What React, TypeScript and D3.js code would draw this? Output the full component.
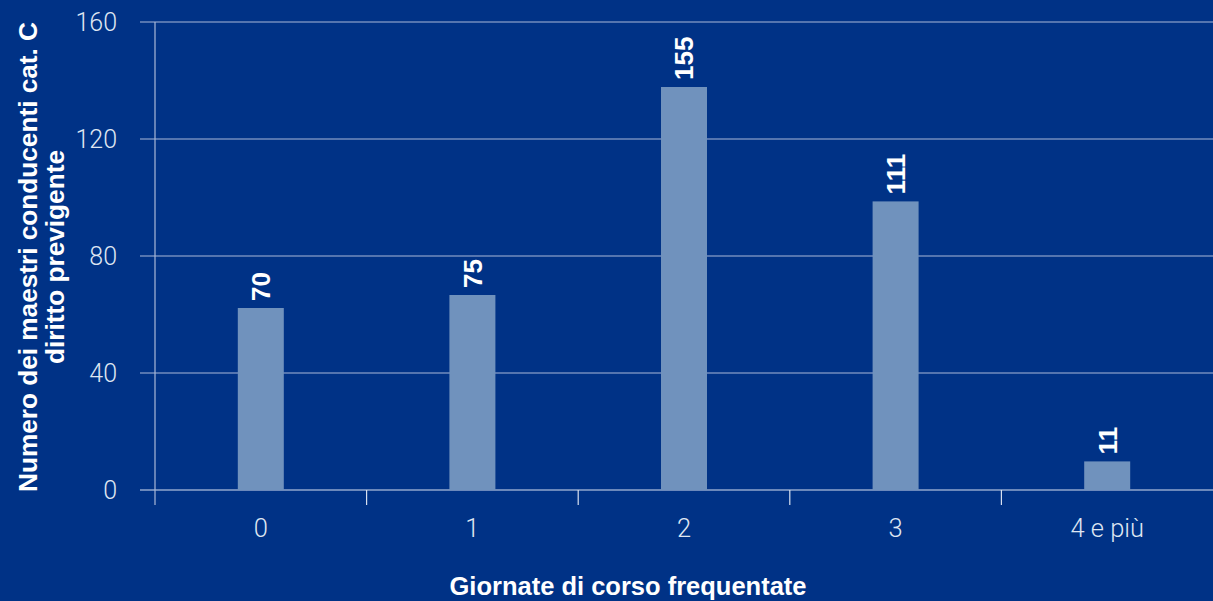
import React from "react";
import * as d3 from "d3";

const categories = ["0", "1", "2", "3", "4 e più"];
const values = [70, 75, 155, 111, 11];
const gridValues = [0, 45, 90, 135, 180];
const tickLabels = ["0", "40", "80", "120", "160"];

const W = 1213;
const H = 601;
const margin = { left: 155, right: 0, top: 22, bottom: 111 };

export default function App() {
  const x = d3
    .scaleBand<string>()
    .domain(categories)
    .range([margin.left, W - margin.right])
    .paddingInner(0)
    .paddingOuter(0);
  const y = d3.scaleLinear().domain([0, 180]).range([H - margin.bottom, margin.top]);
  const barW = 46;
  const bg = "#003286";
  const grid = "#a9b8d8";
  const tickText = "#dfe6f2";
  const bandEdges = categories.map((c) => x(c)!).concat([x(categories[categories.length - 1])! + x.bandwidth()]);
  const bold = "'Liberation Sans', Arial, Helvetica, sans-serif";
  const light = "Roboto, sans-serif";

  return (
    <svg width={W} height={H} style={{ position: "absolute", left: 0, top: 0, display: "block" }}>
      <rect x={0} y={0} width={W} height={H} fill={bg} />
      {gridValues.map((v, i) => (
        <g key={v}>
          <line
            x1={margin.left - 15}
            x2={W}
            y1={y(v)}
            y2={y(v)}
            stroke={i === 0 ? "#d8e0ef" : grid}
            strokeWidth={1.2}
          />
          <text
            x={margin.left - 38}
            y={y(v)}
            dy="0.36em"
            textAnchor="end"
            fill={tickText}
            fontFamily={light}
            fontWeight={300}
            fontSize={25}
          >
            {tickLabels[i]}
          </text>
        </g>
      ))}
      <line x1={margin.left} x2={margin.left} y1={y(180)} y2={y(0) + 15} stroke={grid} strokeWidth={1.2} />
      {bandEdges.slice(1, 5).map((e, i) => (
        <line key={i} x1={e} x2={e} y1={y(0)} y2={y(0) + 15} stroke="#d8e0ef" strokeWidth={1.2} />
      ))}
      {categories.map((c, i) => {
        const cx = x(c)! + x.bandwidth() / 2;
        const top = y(values[i]);
        return (
          <g key={c}>
            <rect x={cx - barW / 2} y={top} width={barW} height={y(0) - top} fill="#7092bd" />
            <text
              transform={`translate(${cx},${top - 7}) rotate(-90)`}
              dy="0.36em"
              textAnchor="start"
              fill="#ffffff"
              fontFamily={bold}
              fontWeight={700}
              fontSize={26}
            >
              {values[i]}
            </text>
            <text
              x={cx}
              y={y(0) + 47}
              textAnchor="middle"
              fill={tickText}
              fontFamily={light}
              fontWeight={300}
              fontSize={25.5}
            >
              {c}
            </text>
          </g>
        );
      })}
      <text
        x={628}
        y={595}
        textAnchor="middle"
        fill="#ffffff"
        fontFamily={bold}
        fontWeight={700}
        fontSize={25.5}
      >
        Giornate di corso frequentate
      </text>
      <text
        transform={`translate(28,257) rotate(-90)`}
        textAnchor="middle"
        fill="#ffffff"
        fontFamily={bold}
        fontWeight={700}
        fontSize={26.2}
      >
        <tspan x={0} dy="0.36em">Numero dei maestri conducenti cat. C</tspan>
        <tspan x={0} dy={27}>diritto previgente</tspan>
      </text>
    </svg>
  );
}
